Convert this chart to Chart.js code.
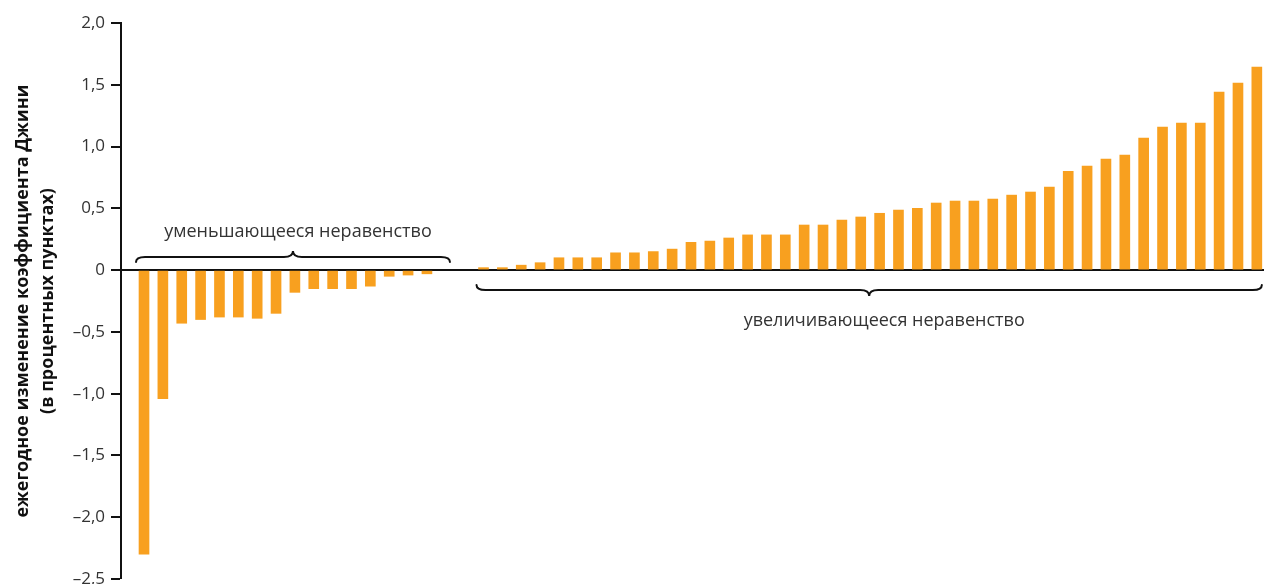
<!DOCTYPE html>
<html>
<head>
<meta charset="utf-8">
<script src="https://cdn.jsdelivr.net/npm/chart.js@4"></script>
<style>
  html, body { margin: 0; padding: 0; background: #fff; }
  #wrap { width: 1264px; height: 584px; position: relative; }
</style>
</head>
<body>
<div id="wrap"><canvas id="c" width="1264" height="584"></canvas></div>
<script>
// ---- data ----
const decreasingValues = [-2.30, -1.04, -0.43, -0.40, -0.38, -0.38, -0.39, -0.35, -0.18, -0.15, -0.15, -0.15, -0.13, -0.05, -0.04, -0.03];
const increasingValues = [0.02, 0.02, 0.04, 0.06, 0.10, 0.10, 0.10, 0.14, 0.14, 0.15,
  0.17, 0.225, 0.235, 0.26, 0.285, 0.285, 0.285, 0.365, 0.365, 0.405,
  0.43, 0.46, 0.486, 0.50, 0.543, 0.559, 0.559, 0.575, 0.607, 0.632,
  0.672, 0.80, 0.842, 0.899, 0.931, 1.069, 1.158, 1.19, 1.19, 1.441,
  1.514, 1.644];
const yTickValues = [-2.5, -2.0, -1.5, -1.0, -0.5, 0, 0.5, 1.0, 1.5, 2.0];
const decreasingLabel = 'уменьшающееся неравенство';
const increasingLabel = 'увеличивающееся неравенство';
const yTitle = ['ежегодное изменение коэффициента Джини', '(в процентных пунктах)'];

// ---- build data (gap of empty slots between groups) ----
const gapSlots = 2;
const points = [];
decreasingValues.forEach((v, i) => points.push({ x: i, y: v }));
const incStart = decreasingValues.length + gapSlots;
increasingValues.forEach((v, j) => points.push({ x: incStart + j, y: v }));
const lastIndex = incStart + increasingValues.length - 1;

const FONT = '"Open Sans", "Noto Sans", sans-serif';

function fmt(v) {
  if (Math.abs(v) < 1e-9) return '0';
  const s = Math.abs(v).toFixed(1).replace('.', ',');
  return (v < 0 ? '–' : '') + s;
}

function drawBrace(ctx, x1, x2, tipX, y, s) {
  // s = -1: tip points up, ends curl down; s = +1: tip points down, ends curl up
  const end = 5, tip = 6, r = 9;
  ctx.beginPath();
  ctx.moveTo(x1, y - s * end);
  ctx.quadraticCurveTo(x1, y, x1 + r, y);
  ctx.lineTo(tipX - r, y);
  ctx.quadraticCurveTo(tipX, y, tipX, y + s * tip);
  ctx.quadraticCurveTo(tipX, y, tipX + r, y);
  ctx.lineTo(x2 - r, y);
  ctx.quadraticCurveTo(x2, y, x2, y - s * end);
  ctx.stroke();
}

const bracePlugin = {
  id: 'braces',
  afterDatasetsDraw(chart) {
    const ctx = chart.ctx;
    const xs = chart.scales.x, ys = chart.scales.y;
    const zero = ys.getPixelForValue(0);
    ctx.save();
    ctx.strokeStyle = '#111';
    ctx.lineWidth = 2;
    ctx.lineCap = 'round';
    // upper brace over decreasing group
    const ax1 = xs.getPixelForValue(0) - 8;
    const ax2 = xs.getPixelForValue(decreasingValues.length - 1) + 23;
    const atip = (ax1 + ax2) / 2;
    drawBrace(ctx, ax1, ax2, atip, zero - 13, -1);
    // lower brace under increasing group
    const bx1 = xs.getPixelForValue(incStart) - 7;
    const bx2 = xs.getPixelForValue(lastIndex) + 5;
    const btip = (bx1 + bx2) / 2;
    drawBrace(ctx, bx1, bx2, btip, zero + 20, 1);
    // labels
    ctx.fillStyle = '#333';
    ctx.font = '18px ' + FONT;
    ctx.textAlign = 'center';
    ctx.textBaseline = 'middle';
    ctx.fillText(decreasingLabel, atip + 5, zero - 38);
    ctx.fillText(increasingLabel, btip + 15, zero + 51);
    ctx.restore();
  }
};

const yMin = yTickValues[0], yMax = yTickValues[yTickValues.length - 1];

new Chart(document.getElementById('c'), {
  type: 'bar',
  data: {
    datasets: [{
      data: points,
      backgroundColor: '#F8A01F',
      borderWidth: 0,
      barThickness: 10
    }]
  },
  options: {
    responsive: false,
    animation: false,
    events: [],
    layout: { padding: { top: 23, right: 0, bottom: 5, left: 0 } },
    plugins: { legend: { display: false }, tooltip: { enabled: false } },
    scales: {
      x: {
        type: 'linear',
        display: false,
        offset: false,
        bounds: 'data',
        min: -1.22,
        max: lastIndex + 0.38
      },
      y: {
        min: yMin,
        max: yMax,
        afterFit(scale) {
          scale.width = 121;
          scale.paddingTop = 0;
          scale.paddingBottom = 0;
        },
        afterBuildTicks(scale) { scale.ticks = yTickValues.map(v => ({ value: v })); },
        border: { display: true, color: '#111', width: 2 },
        grid: {
          drawOnChartArea: true,
          color: c => (c.tick && c.tick.value === 0) ? '#111' : 'rgba(0,0,0,0)',
          lineWidth: c => (c.tick && c.tick.value === 0) ? 2 : 0,
          tickColor: '#111',
          tickLength: 10,
          tickWidth: 2
        },
        ticks: {
          padding: 6,
          color: '#333',
          font: { family: FONT, size: 17 },
          callback: v => fmt(v)
        },
        title: {
          display: true,
          text: yTitle,
          color: '#111',
          font: { family: FONT, size: 18, weight: 'bold', lineHeight: 1.39 },
          padding: { top: 10, bottom: 0 }
        }
      }
    }
  },
  plugins: [bracePlugin]
});
</script>
</body>
</html>
